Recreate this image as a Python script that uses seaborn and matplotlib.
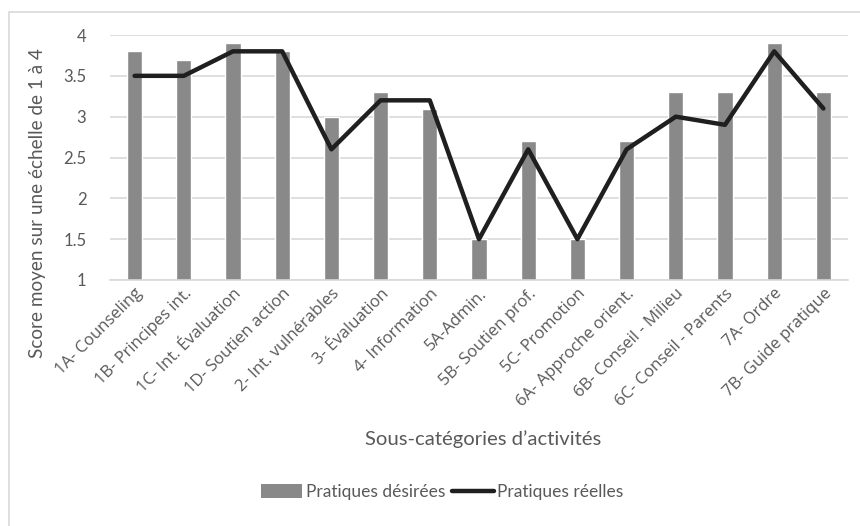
import numpy as np
import pandas as pd
import matplotlib
matplotlib.use("Agg")
import matplotlib.pyplot as plt
import seaborn as sns
from matplotlib.patches import Patch, Rectangle
from matplotlib.lines import Line2D

categories = ["1A- Counseling", "1B- Principes int.", "1C- Int. Évaluation", "1D- Soutien action",
              "2- Int. vulnérables", "3- Évaluation", "4- Information", "5A-Admin.",
              "5B- Soutien prof.", "5C- Promotion", "6A- Approche orient.", "6B- Conseil - Milieu",
              "6C- Conseil - Parents", "7A- Ordre", "7B- Guide pratique"]
desirees = [3.8, 3.7, 3.9, 3.8, 3.0, 3.3, 3.1, 1.5, 2.7, 1.5, 2.7, 3.3, 3.3, 3.9, 3.3]
reelles = [3.5, 3.5, 3.8, 3.8, 2.6, 3.2, 3.2, 1.5, 2.6, 1.5, 2.6, 3.0, 2.9, 3.8, 3.1]
yticks = [1, 1.5, 2, 2.5, 3, 3.5, 4]
ytick_labels = ["1", "1.5", "2", "2.5", "3", "3.5", "4"]

sns.set_style("white")
plt.rcParams["font.family"] = ["Lato", "DejaVu Sans"]
txt = "#595959"

df = pd.DataFrame({"cat": categories, "des": desirees, "ree": reelles})

W, H = 860, 526
fig = plt.figure(figsize=(W / 100, H / 100), dpi=100)
ax = fig.add_axes([110 / W, 1 - 280 / H, (848 - 110) / W, (280 - 35) / H])

sns.barplot(data=df, x="cat", y="des", color="#898989", saturation=1, width=0.31, ax=ax)
sns.lineplot(x=np.arange(len(categories)), y=df["ree"], color="#1f1f1f", linewidth=3.2, ax=ax)

ax.set_ylim(1, 4)
ax.set_xlim(-0.5, len(categories) - 0.5)
ax.set_yticks(yticks)
ax.set_yticklabels(ytick_labels, fontsize=12, color=txt)
ax.yaxis.grid(True, color="#d9d9d9", linewidth=1.2)
ax.set_axisbelow(True)
for s in ["top", "right", "left"]:
    ax.spines[s].set_visible(False)
ax.spines["bottom"].set_color("#d9d9d9")
ax.spines["bottom"].set_linewidth(1.2)
ax.tick_params(axis="y", length=0, pad=17)
ax.tick_params(axis="x", length=0, pad=4)
ax.set_xticks(range(len(categories)))
ax.set_xticklabels(categories, rotation=45, ha="right", rotation_mode="anchor",
                   fontsize=12, color=txt, family=["Open Sans", "DejaVu Sans"])
ax.set_xlabel("Sous-catégories d’activités", fontsize=14.6, color=txt)
ax.set_ylabel("Score moyen sur une échelle de 1 à 4", fontsize=13.6, color=txt)
ax.xaxis.set_label_coords((483 - 110) / 738, (280 - 430) / 245)
ax.yaxis.set_label_coords((46 - 110) / 738, (280 - 203) / 245)

handles = [Patch(facecolor="#898989", edgecolor="none"),
           Line2D([0], [0], color="#1f1f1f", linewidth=3.2)]
fig.legend(handles, ["Pratiques désirées", "Pratiques réelles"], loc="center",
           bbox_to_anchor=(442 / W, 1 - 492 / H), ncol=2, frameon=False,
           fontsize=12.5, labelcolor=txt, handlelength=2.4, handleheight=0.8,
           handletextpad=0.2, columnspacing=0.4)

fig.patches.append(Rectangle((8.5 / W, -0.1), 1.2, 1 - 12 / H + 0.1,
                             transform=fig.transFigure, fill=False,
                             edgecolor="#d9d9d9", linewidth=1.2))

fig.savefig("out.png", dpi=100)
